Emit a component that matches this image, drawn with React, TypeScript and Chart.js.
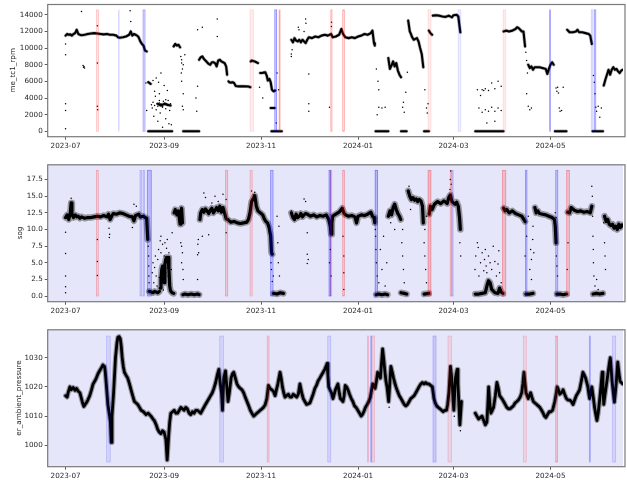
import { useEffect, useRef } from 'react';
import { Chart, registerables } from 'chart.js';

Chart.register(...registerables);

type Pair = [number, number];
type Trace = (Pair | null)[];
type Span = [number, number, number]; // start day, end day, intensity

// x axis: days since 2023-07-01
const dateTickDays = [0, 62, 123, 184, 244, 305];
const dateTickLabels = ['2023-07', '2023-09', '2023-11', '2024-01', '2024-03', '2024-05'];
const rpmTicks = [0, 2000, 4000, 6000, 8000, 10000, 12000, 14000];
const sogTicks = [0, 2.5, 5, 7.5, 10, 12.5, 15, 17.5];
const pressureTicks = [1000, 1010, 1020, 1030];

// ---------- me_tc1_rpm ----------
const rpmTrace: Trace = [
  [0, 11500], [1, 11700], [2, 11600], [3, 11650], [4, 11500], [5, 11700], [6, 11800], [7, 12200], [8, 11700], [9, 11600], [10, 11550], [12, 11600], [14, 11700], [16, 11750], [18, 11800], [20, 11750], [22, 11700], [24, 11650], [26, 11700], [28, 11600], [30, 11600], [32, 11500], [33, 11300], [34, 11250], [36, 11300], [38, 11400], [40, 11600], [41, 12000], [42, 11500], [43, 11700], [44, 11600], [45, 11500], [46, 11300], [47, 10800], [48, 10500], [49, 10300], [50, 9700], [51, 9600], null,
  [52, 5900], [53.5, 5700], null,
  [52, 0], [67, 0], null,
  [58, 3300], [60, 3100], [62, 3300], [64, 3200], [66, 3100], null,
  [68, 10200], [69, 10500], [70, 10300], [71, 10400], [72, 10100], null,
  [74, 0], [84, 0], null,
  [84, 8600], [85, 8900], [86, 9000], [87, 8700], [88, 8500], [89, 8300], [90, 8100], [91, 8000], [92, 8300], [93, 8300], [94, 8200], [95, 7800], [96, 8500], [97, 8600], [98, 8400], [99, 8300], [100, 8200], [101, 7800], [101.6, 6800], null,
  [102.5, 6000], [103, 5900], [104, 5850], [105, 5900], [106, 5800], [107, 5450], [109, 5400], [111, 5420], [113, 5400], [115, 5380], [116.2, 5300], null,
  [116.5, 8400], [117, 8500], [118, 8450], [119, 8400], [120, 8300], [121, 8200], null,
  [122.4, 7000], [123.5, 7000], [124.5, 7050], [125.6, 7100], [126.5, 6700], [127.2, 6100], [128.2, 6300], [129, 5900], [129.8, 5000], [130.8, 4800], [131.8, 4900], null,
  [129, 2800], [131.5, 2800], null,
  [129.5, 0], [136, 0], null,
  [142, 11000], [143, 10700], [144, 11200], [145, 10900], [146, 10800], [147, 11000], [148, 10700], [149, 11000], [150, 10800], [151, 10600], [152, 11000], [153, 11300], [155, 11200], [157, 11400], [159, 11300], [161, 11500], [163, 11600], [165, 11500], [167, 11700], [168, 11300], [170, 11400], [172, 11600], [173.5, 12300], [174.5, 11700], [176, 11300], [178, 11200], [180, 11300], [182, 11200], [184, 11400], [186, 11500], [188, 11700], [190, 11600], [192, 11800], [193, 12100], [194, 10600], [194.5, 10300], null,
  [195, 0], [203, 0], null,
  [203, 8800], [204, 7500], [205, 7900], [206, 8400], [207, 7800], [208, 8200], [209, 7300], [210, 6800], [211, 6500], null,
  [211, 0], [214.5, 0], null,
  [215.5, 13300], [216.5, 12000], [217, 11800], [218, 11300], [219, 11000], [220, 11100], [221, 11200], [222, 10800], [223, 10000], [224, 9300], [225, 7700], null,
  [225.5, 0], [228.5, 0], null,
  [228.5, 12100], [229.5, 11800], [230.5, 11600], null,
  [231, 13900], [233, 13950], [235, 13900], [237, 13800], [239, 13750], [241, 13900], [243, 13700], [244, 13950], [246, 14000], [247, 13800], [247.8, 12600], [248.3, 11900], null,
  [257.7, 0], [275.4, 0], null,
  [275.5, 12000], [277, 12100], [279, 12000], [281, 12100], [283, 12300], [284, 12500], [285, 12400], [286, 12200], [287, 12000], [288, 12000], [289, 10200], null,
  [291, 8000], [292, 7600], [293, 7800], [294, 7400], [295, 7700], [296, 7700], [298, 7700], [300, 7600], [302, 7500], [303, 6900], [304, 7500], [305, 8000], [306, 8300], [307, 8000], null,
  [307.8, 0], [315, 0], null,
  [315.5, 12200], [317, 11900], [319, 11900], [321, 12000], [322, 12200], [323, 11900], [325, 11900], [327, 11800], [329, 11700], [330, 11500], [331, 10500], null,
  [331.5, 0], [338, 0], null,
  [338.5, 5500], [339.5, 6200], [340.5, 6800], [341.5, 7400], [342.5, 6800], [343.5, 7400], [344.5, 7700], [345.5, 7400], [346.5, 7500], [347.5, 7200], [348.5, 7000], [349.5, 7300], [350.5, 7400],
];
const rpmPoints: Pair[] = [
  [0, 300], [0, 2500], [0, 3300], [0, 9200], [0, 10500], [10, 14400], [11, 7900], [11.3, 7700], [11.6, 7800], [11.9, 7600],
  [20, 12700], [20, 8200], [20, 3000], [20.2, 2600], [40.6, 14500], [41, 13200], [50.5, 5800], [51, 2500],
  [54, 3200], [54.5, 2800], [55, 3500], [55.5, 1800], [56, 3100], [56.5, 4200], [57, 2600], [57.5, 3300], [58, 3000], [58.5, 5900], [59, 3400], [59.5, 2200], [60, 3300], [60.5, 3100], [61, 2900], [61.5, 3600], [62, 3200], [62.5, 3400], [63, 2700], [63.5, 3300], [64, 3100], [64.5, 3700], [65, 3200], [65.5, 2500], [66, 3300], [66.5, 800],
  [55, 6100], [57, 6400], [60, 7000], [62, 5500], [58, 1200], [63, 1500], [61, 500], [65, 900], [56, 4800], [64, 4900], [59, 4500], [59, 3700], [61, 3000], [63, 3800],
  [72.5, 9000], [73, 8600], [73.5, 7500], [73, 6000], [74, 4500], [73.5, 3000], [74, 2600], [75, 9200], [72.8, 7000], [73, 8200], [74, 8000],
  [82, 4000], [82.5, 2400], [83, 5400], [83, 12200], [86, 12500], [95.4, 13500], [95.4, 11400],
  [122, 5300], [124, 4000], [133, 7000], [134, 5000], [132.5, 1000],
  [142, 9300], [142.5, 9800], [142, 9000], [146.4, 12500], [146.8, 12200], [151, 13500], [151.2, 13000], [150, 12000], [153, 3300], [153, 2400], [153, 6900],
  [166, 2900], [167.2, 12600], [167.3, 13100],
  [196, 2000], [197, 2900], [199, 2800], [201, 2900], [197, 5000], [195.5, 7500], [196.5, 6000],
  [212, 2900], [213, 2300], [214, 4700], [212.5, 3500], [215, 7100],
  [226, 5000], [227, 2800], [227.5, 2200], [228, 3300],
  [259, 5000], [261, 4300], [262, 5000], [263, 4900], [264, 5100], [266, 4900], [268, 5800], [270, 5100], [272, 6000], [274, 5400], [260, 2800], [262, 2300], [264, 2600], [266, 2400], [268, 2900], [270, 2400], [272, 2800], [274, 2500], [265, 1000], [270, 1200],
  [289.5, 9500], [290, 8500], [290.5, 7000], [291, 3000], [292, 2600], [293, 2800], [290, 4500],
  [308.5, 5200], [309, 4800], [309.5, 5300], [310, 4600], [310.5, 2800], [311, 2400], [312, 2500], [313, 5300],
  [332, 6700], [332.5, 5900], [333, 4500], [333.5, 2900], [334, 2400], [335, 3000], [336, 1700], [337, 2800],
];
const rpmRedSpans: Span[] = [[19.4, 20.8, 0.3], [116, 118.2, 0.2], [134.3, 134.9, 0.5], [166.8, 167.6, 0.4], [174.3, 175.5, 0.4], [228, 229.8, 0.2], [275.2, 276.9, 0.2]];
const rpmBlueSpans: Span[] = [[33.3, 33.7, 0.2], [48.7, 50, 0.45], [131.6, 132.8, 0.6], [246.9, 248.6, 0.2], [304.4, 305, 0.5], [330.6, 331.7, 0.25], [332.5, 333.5, 0.5]];
const rpmSpanRange: Pair = [0, 14600];

// ---------- sog ----------
const sogTrace: Trace = [
  [0, 11.8], [1, 12.2], [2, 11.5], [3, 12.5], [3.5, 14], [4, 12.3], [5, 11.8], [6, 12.2], [7, 11.9], [8, 12.0], [9, 11.7], [10, 11.9], [12, 11.7], [14, 11.8], [16, 11.8], [18, 11.9], [20, 12.0], [22, 11.9], [24, 12.1], [26, 11.9], [27, 12.3], [28, 11.5], [29, 12.0], [30, 12.4], [32, 12.3], [34, 12.5], [36, 12.4], [38, 12.2], [40, 12.0], [42, 11.9], [43, 11.3], [44, 12.1], [46, 12.3], [47, 11.9], [49, 12.0], [50, 11.8], [51, 11.7], [51.7, 8.5], null,
  [52.6, 0.7], [54, 0.6], [55, 0.5], [56, 0.7], [57, 0.6], [58, 0.5], [59, 0.7], null,
  [59.5, 1.2], [60, 2.5], [60.5, 4], [61, 4.5], [61.5, 3.2], [62, 2], [62.5, 4.8], [63, 5.5], [63.5, 5.8], [64, 5.3], [64.5, 5.8], [65, 4], [65.5, 1.5], [66, 0.8], [67, 0.5], [68, 0.4], null,
  [68.3, 12.5], [69, 13], [70, 12.2], [71, 12.8], [72, 10.8], [72.5, 12.3], [73, 13.2], [73.5, 11], null,
  [73.8, 0.2], [75, 0.3], [77, 0.2], [79, 0.3], [81, 0.2], [83, 0.3], [84, 0.2], null,
  [84.5, 11.5], [85, 12.5], [86, 13], [87, 12.6], [88, 13.1], [89, 12.8], [90, 12.4], [91, 12.9], [92, 13.2], [93, 12.5], [94, 12.9], [95, 13.3], [96, 12.8], [97, 13.5], [98, 12.6], [99, 13.3], [100, 12.5], [101, 11.6], [102, 11.5], [103, 11.3], [104, 11.1], [106, 11.2], [108, 11.0], [110, 10.9], [112, 11.0], [114, 11.1], [115, 11.5], [116, 12.5], [117, 14.2], [118, 14.6], [119, 15.1], [120, 13.5], [121, 12.8], [122, 12.6], [123, 12.4], [124, 12.2], [125, 11.6], [126, 11.2], [127, 11], [128, 10.3], [129, 9], [129.5, 6.5], [130, 6.3], null,
  [130.8, 0.4], [133, 0.3], [135, 0.5], [137, 0.4], null,
  [142, 12.5], [143, 11.8], [144, 11.5], [145, 12.3], [146, 11.8], [147, 12.0], [148, 12.4], [149, 11.9], [150, 12.2], [151, 12.4], [152, 12.3], [154, 12.0], [156, 12.2], [158, 11.9], [160, 12.1], [162, 12.0], [164, 12.2], [165.5, 11.5], [166.5, 10.5], [167, 9.3], [167.5, 11], [168, 12], [170, 12.3], [172, 12.6], [174, 13.2], [175, 12.5], [176, 12.2], [178, 12.0], [180, 12.1], [182, 11.9], [183, 11.0], [184, 12.0], [186, 12.2], [188, 12.1], [190, 12.3], [192, 12.6], [193, 12.0], [194, 11.8], [194.5, 11], null,
  [195.3, 0.2], [197, 0.3], [199, 0.2], [201, 0.3], [202.5, 0.2], null,
  [203, 12], [204, 12.8], [205, 12.2], [206, 13.3], [207, 13.8], [208, 13], [209, 12.4], [210, 12.0], [210.8, 11.5], null,
  [211, 0.5], [213, 0.4], [214.5, 0.3], null,
  [215.5, 15.8], [216.5, 15], [217.5, 14.5], [218.5, 14.8], [219.5, 14.4], [220.5, 14.6], [221.5, 14.2], [222.5, 14.5], [223.5, 14.3], [224.5, 13.5], [225, 11], null,
  [225.5, 0.3], [228.5, 0.4], null,
  [228.7, 12.3], [229.5, 13.5], [230.5, 13.0], [232, 13.8], [234, 14.2], [236, 13.9], [238, 14.3], [240, 13.9], [241, 14.8], [242, 15.2], [243, 14.2], [244, 14.0], [245, 13.8], [246, 14.1], [247, 13.5], [247.8, 11.8], [248.3, 10], null,
  [257.7, 0.3], [260, 0.3], [262, 0.4], [264, 0.5], [265, 1.5], [266, 2.3], [267, 2.0], [268, 1.0], [270, 0.5], [272, 0.4], [273, 1.2], [274, 0.6], [275, 0.4], null,
  [275.5, 13.2], [276.5, 12.8], [277.5, 13.0], [279, 12.5], [281, 12.8], [283, 12.4], [285, 12.2], [287, 12.0], [288, 11.6], [289, 11.2], null,
  [289.5, 0.3], [292, 0.3], [294, 0.4], null,
  [295.2, 13.3], [296, 12.5], [297, 12.8], [298, 12.4], [300, 12.3], [302, 12.2], [304, 12.0], [306, 11.8], [307.5, 11.5], [308, 10.5], [308.5, 8], null,
  [309, 0.3], [311, 0.3], [313, 0.2], [315, 0.3], null,
  [315.8, 12.6], [317, 12.5], [318, 13.3], [320, 12.9], [322, 12.7], [324, 12.8], [326, 12.6], [328, 12.7], [330, 12.5], [331, 13.5], null,
  [331.8, 0.3], [334, 0.4], [336, 0.3], [338, 0.4], null,
  [339, 12], [340, 11.2], [341, 11.5], [342, 10.8], [343, 10.6], [344, 10.8], [345, 10.2], [346, 10.5], [347, 10.0], [348, 10.8], [349, 10.3], [350, 10.7], [351, 10.5],
];
const sogPoints: Pair[] = [
  [0, 6.4], [0, 3], [0, 1.4], [0, 0.5], [0, 9.6], [3.5, 14.7], [20, 8.5], [20, 5.2], [20, 3.1], [27.5, 8.8], [27.7, 9.3], [27.3, 10.2], [43, 13.8], [44.5, 13.5], [42, 10.3],
  [52, 7.5], [52.2, 6], [52.3, 4.5], [52.4, 3], [52.5, 2],
  [54.5, 3.5], [55, 5], [55.5, 2], [56, 4.3], [56.5, 6], [57, 3], [57.5, 1.5], [58, 5.5], [58.5, 7], [59, 2.8], [59.5, 8.3], [60, 6.5], [60.5, 1.8], [61, 7.8], [61.5, 0.9], [62, 6], [62.5, 8], [63, 3.5], [63.5, 7.2], [64, 8.5], [64.5, 3], [65, 6.5], [65.5, 2.5], [66, 1.8], [66.5, 4], [67, 9.5], [60, 9], [62, 3.8], [64, 4.2],
  [72.5, 8], [73, 7.5], [73.5, 6.5], [73, 5], [74, 2.5], [73.8, 4],
  [83, 6.2], [83.2, 7.8], [83.5, 8.5], [83.7, 6.5], [83, 2.5],
  [87, 15.5], [88, 14.8], [92, 14], [94, 15], [96, 14.2], [99, 15.3], [101, 14.5], [101, 9.5], [86, 9], [90, 9.2],
  [117, 15.8], [118, 15.2], [119, 15.6],
  [129, 7], [129.2, 5], [129.5, 4], [130, 2.2], [130.7, 3], [133, 12], [133.5, 8], [133.8, 5], [134.5, 3], [134.2, 10.5],
  [142, 12.8], [150, 14.6], [151, 14.2], [152, 4.9], [152, 6.3], [152, 9.5], [152.6, 5.5],
  [166, 5], [166.5, 7], [167, 3], [174.5, 9], [175, 6], [175, 3.5], [175, 1],
  [195, 9], [195.2, 7], [195.5, 5], [196, 3], [194.8, 10],
  [198, 7], [199, 4], [200, 9], [201, 1.5], [197, 2], [202, 5],
  [204.5, 11], [207, 10], [211.5, 8], [212, 6], [212.5, 4], [213, 2], [212, 10],
  [216, 16.5], [217, 13], [225.5, 8], [226, 6], [226.5, 4], [227, 2], [226, 10], [227, 12],
  [241.8, 16], [242, 17.5], [242.2, 18.8], [242.5, 16.8], [248, 8], [248.5, 6],
  [257.5, 4], [258, 6], [259, 8], [259.5, 7.3], [260, 3], [261, 5], [262, 6.5], [263, 3.8], [263.5, 5.5], [264, 7], [264.5, 4.5], [265, 3.5], [266, 6], [267, 5], [268, 4], [269, 7.5], [270, 5.2], [271, 3], [272, 4.8], [272.5, 6.8], [273, 3.5], [274, 2],
  [289, 6], [290, 9], [291, 12], [292, 4], [292.5, 7], [293, 5.5], [293.8, 8.5], [294, 10.5], [294.5, 6.5], [293, 2.5],
  [308.5, 11.8], [308.7, 6], [309, 4.5], [309.4, 3], [308, 12.5], [316, 8], [315.5, 4],
  [331, 16.5], [331.3, 15], [331.5, 12], [331.7, 9], [331.9, 7], [332, 5], [332.3, 3], [333, 1.5], [334, 2.5], [335, 1],
  [338.5, 11], [339, 8], [339.3, 6], [339.6, 4],
];
const sogRedSpans: Span[] = [[19.4, 20.6, 0.35], [100.6, 102, 0.4], [116, 117.4, 0.3], [166.6, 167.4, 0.4], [174.3, 175.5, 0.4], [228, 229.8, 0.55], [241.9, 243, 0.4], [274.8, 276.9, 0.5], [315.2, 316.9, 0.5]];
const sogBlueSpans: Span[] = [[46.8, 47.7, 0.3], [48.7, 49.6, 0.3], [51.4, 53.9, 0.55], [128.9, 130.5, 0.5], [165.7, 166.6, 0.6], [194.7, 196.3, 0.6], [243, 243.8, 0.25], [289.2, 290.2, 0.5], [308.3, 309.6, 0.5]];
const sogSpanRange: Pair = [0, 18.9];

// ---------- er_ambient_pressure ----------
const pressureTrace: Trace = [
  [0, 1017], [1, 1016.5], [1.7, 1018.2], [2.7, 1020], [3.5, 1019], [4.8, 1019.8], [6, 1018.8], [6.9, 1019.5], [8, 1018.5], [9, 1018], [10, 1016], [10.7, 1014.5], [11.5, 1013.3], [12.3, 1014], [13, 1014.5], [14, 1015.5], [15.2, 1017], [16.3, 1019], [17.3, 1021], [18.4, 1022], [19.4, 1023.1], [20.4, 1024.5], [21.4, 1025.5], [22.5, 1026.5], [23.5, 1027.5], [24.5, 1027], [25, 1025], [25.6, 1021], [26.6, 1014], [27.7, 1010], [28.2, 1008], [28.7, 1001], [29.2, 1010], [30.2, 1018], [31.4, 1030], [32.3, 1035], [32.9, 1037], [33.7, 1037.2], [34.4, 1036.5], [35, 1034], [35.6, 1030], [36.3, 1027], [37, 1025], [38, 1024], [39.1, 1023], [40.2, 1021], [41.2, 1019], [42.2, 1017], [43.3, 1015], [44.4, 1014.5], [45.4, 1014], [46.5, 1013], [47.5, 1012], [49, 1011.5], [50.6, 1010.5], [52, 1011], [53.7, 1010], [55, 1009], [55.8, 1008.5], [57, 1007], [57.9, 1005.5], [59, 1004.5], [60, 1004], [61, 1005], [62, 1004.5], [63.1, 1002], [63.9, 995], [64.8, 1003], [65.5, 1008], [66.2, 1011], [67.3, 1011.5], [68.3, 1012], [69.4, 1011], [70.4, 1011], [71.5, 1012], [72.5, 1013], [73.5, 1012.5], [74.5, 1012], [75.6, 1013], [76.6, 1012.5], [77.7, 1011], [78.7, 1010.5], [79.8, 1011.5], [80.8, 1011], [81.9, 1012], [82.9, 1012], [84, 1011.5], [85, 1011], [86, 1012], [87, 1013], [88, 1014], [89.1, 1015], [90.2, 1016], [91.2, 1017], [92.3, 1018], [93.3, 1019.5], [94.4, 1021.5], [95.4, 1024], [96.4, 1026], [97.1, 1022], [98.1, 1018], [98.7, 1012], [99.5, 1023], [100.6, 1025.5], [101.4, 1020], [102.2, 1015], [103, 1018], [104.1, 1023], [105, 1024.5], [105.8, 1025], [106.8, 1023], [107.8, 1021], [108.9, 1020], [109.9, 1019.5], [111, 1019], [112, 1018], [113, 1016.5], [114.1, 1015], [115.2, 1013.5], [116.2, 1012], [117.2, 1011], [118.3, 1010], [119.3, 1010.5], [120.3, 1011], [121.4, 1011.5], [122.4, 1012], [123.5, 1012.5], [124.5, 1013], [125.6, 1014], [126.6, 1016], [127.6, 1020.5], [128.6, 1019.5], [129.7, 1019], [130.7, 1018.5], [131.8, 1017], [132.6, 1019], [133.5, 1021], [134.2, 1023], [134.9, 1025], [135.6, 1023], [136.4, 1020], [137.2, 1018], [138, 1016.5], [139, 1017], [140.1, 1017.5], [141.2, 1016.5], [142.2, 1016.5], [143.2, 1017.5], [144.3, 1017], [145.4, 1016.5], [146.4, 1017.5], [147.4, 1021], [148.5, 1018], [149.5, 1016], [150.5, 1015], [151.6, 1014], [152.6, 1014.2], [153.7, 1014.5], [154.7, 1016], [155.7, 1017.5], [156.8, 1019.5], [157.8, 1020.5], [158.8, 1022], [159.9, 1023], [160.9, 1024], [162, 1025], [163, 1026], [163.8, 1027], [164.5, 1028], [165, 1024], [165.5, 1020], [166.3, 1019], [167.2, 1018], [168.2, 1016], [169, 1017.5], [169.7, 1019], [170.5, 1020], [171.3, 1021], [172, 1018.5], [172.8, 1016], [173.7, 1015.5], [174.5, 1015], [175.2, 1017], [175.9, 1020.5], [176.8, 1020], [177.6, 1019], [178.6, 1017.5], [179.7, 1016], [180.7, 1015], [181.7, 1013.5], [182.7, 1013], [183.8, 1012], [184.9, 1011], [185.9, 1010], [186.7, 1010.5], [187.6, 1011.5], [188.6, 1013], [189.7, 1014], [190.7, 1015], [191.7, 1016.5], [192.5, 1019], [193.2, 1021], [194, 1020.5], [194.7, 1019.5], [195.5, 1022], [196.3, 1025], [197.2, 1024], [198, 1023], [198.7, 1028], [199.4, 1033], [200.2, 1029], [200.9, 1025], [201.5, 1022], [202.2, 1020], [203.2, 1015], [203.9, 1021], [204.6, 1027], [205.5, 1025], [206.3, 1023], [207, 1021.5], [207.8, 1020], [208.8, 1018.5], [209.9, 1017], [211, 1016], [212, 1015], [213, 1014], [214, 1013.5], [215, 1014], [216.1, 1015], [217.1, 1016], [218.2, 1016.5], [219.2, 1017], [220.3, 1018], [221.3, 1019], [222.3, 1020], [223.4, 1021], [224.4, 1021.5], [225.5, 1021], [226.5, 1021.5], [227.5, 1021], [228.6, 1021], [229.6, 1020.5], [230.7, 1020], [231.7, 1016], [232.5, 1014.5], [233.4, 1013.5], [234.4, 1013], [235.5, 1012.5], [236.5, 1012], [237.5, 1011.5], [238.5, 1012], [239.6, 1012], [240.3, 1014], [241.1, 1018], [242.1, 1027], [242.7, 1024], [243.2, 1020], [244.2, 1012], [245.2, 1023], [246.3, 1026], [246.8, 1021], [247.3, 1015], [248, 1007], [249, 1015], null,
  [257.7, 1011], [258.7, 1010], [259.8, 1009], [260.8, 1009.5], [261.9, 1010], [263, 1008.5], [264, 1007], [265, 1008], [265.6, 1014], [266.1, 1020], [266.7, 1015], [267.5, 1011], [268.4, 1012], [269.2, 1013], [270.3, 1017], [271.3, 1021.5], [272.2, 1019.5], [273, 1017], [274.4, 1016], [275.5, 1015], [276.5, 1014], [277.5, 1013], [278.6, 1012.5], [279.6, 1012.5], [280.6, 1013], [281.7, 1013.5], [282.7, 1014.5], [283.8, 1015], [284.8, 1015.5], [285.9, 1016.5], [286.9, 1018], [287.6, 1021], [288.3, 1025], [289, 1021], [289.6, 1018], [290.3, 1017], [291, 1016], [291.7, 1017], [292.5, 1018], [293.3, 1016.5], [294.2, 1015], [295.2, 1014.5], [296.3, 1014], [297.3, 1013.5], [298.3, 1013], [299.4, 1012], [300.4, 1011], [301.2, 1010], [302.1, 1009.5], [303.1, 1010.5], [304.2, 1011.5], [305.2, 1011.5], [306.3, 1012], [307, 1013.5], [307.7, 1015], [308.5, 1017.5], [309.2, 1020], [310, 1019], [310.8, 1017.5], [311.9, 1018], [312.9, 1019], [313.9, 1017.5], [315, 1016], [316, 1015.5], [317.1, 1015.5], [318.1, 1015], [319.2, 1014], [320.2, 1015.5], [321.2, 1017], [322.3, 1018], [323.3, 1019], [324.4, 1022], [325.4, 1025], [326.3, 1024], [327.1, 1023], [327.8, 1021.5], [328.5, 1020], [329, 1018], [329.6, 1016], [330.3, 1018], [331, 1020], [331.9, 1016.5], [332.7, 1013], [333.5, 1010.5], [334.2, 1008.5], [335, 1011], [335.8, 1015], [336.7, 1020], [337.5, 1025], [338, 1019], [338.5, 1014], [339.2, 1017], [340, 1020], [341, 1024], [342, 1028], [342.6, 1030], [343.2, 1026], [343.7, 1022], [344.5, 1018], [345.2, 1014.8], [346.3, 1021], [347.3, 1028.5], [348, 1025], [348.7, 1022], [349.5, 1021.5], [350.5, 1021],
];
const pressurePoints: Pair[] = [[28.9, 1003], [64.2, 998], [98.9, 1014], [203.5, 1013], [244.5, 1010], [248.3, 1005]];
const pressureRedSpans: Span[] = [[126.8, 128, 0.3], [189.9, 190.5, 0.3], [192.6, 194.4, 0.25], [240.5, 242.8, 0.25], [287.9, 289.8, 0.25], [308.3, 309.4, 0.4]];
const pressureBlueSpans: Span[] = [[25.8, 28.1, 0.25], [97, 99.3, 0.25], [164.9, 166.8, 0.25], [191.9, 192.6, 0.35], [231.1, 233, 0.35], [329.4, 330, 0.4], [344.1, 346, 0.25]];
const pressureSpanRange: Pair = [994.3, 1037.4];

interface PanelSpec {
  id: string;
  trace: Trace;
  points: Pair[];
  red: Span[];
  blue: Span[];
  spanRange: Pair;
  yTicks: number[];
  yMin: number;
  yMax: number;
  yLabel: string;
  yFmt: (v: number) => string;
  bg: string | null;
  top: number;
  height: number;
  areaTop: number;
  areaBottom: number;
  titlePad: number;
  core: number;
  halo: number;
  haloAlpha: number;
}

const FONT = { family: 'DejaVu Sans', size: 7.2 };
const W = 627;

const panels: PanelSpec[] = [
  {
    id: 'rpm', trace: rpmTrace, points: rpmPoints, red: rpmRedSpans, blue: rpmBlueSpans, spanRange: rpmSpanRange,
    yTicks: rpmTicks, yMin: -650, yMax: 15300, yLabel: 'me_tc1_rpm', yFmt: (v) => String(v),
    bg: null, top: 0, height: 160, areaTop: 0, areaBottom: 136.7, titlePad: 9, core: 2.1, halo: 3.4, haloAlpha: 0.3,
  },
  {
    id: 'sog', trace: sogTrace, points: sogPoints, red: sogRedSpans, blue: sogBlueSpans, spanRange: sogSpanRange,
    yTicks: sogTicks, yMin: -0.85, yMax: 19.8, yLabel: 'sog', yFmt: (v) => v.toFixed(1),
    bg: '#e6e6fa', top: 160, height: 160, areaTop: 164.3, areaBottom: 301.7, titlePad: 15.7, core: 3.2, halo: 6.5, haloAlpha: 0.35,
  },
  {
    id: 'pressure', trace: pressureTrace, points: pressurePoints, red: pressureRedSpans, blue: pressureBlueSpans, spanRange: pressureSpanRange,
    yTicks: pressureTicks, yMin: 992.7, yMax: 1039.7, yLabel: 'er_ambient_pressure', yFmt: (v) => String(v),
    bg: '#e6e6fa', top: 322, height: 160, areaTop: 329.3, areaBottom: 466.7, titlePad: 14.4, core: 2.8, halo: 5, haloAlpha: 0.35,
  },
];

function toXY(trace: Trace) {
  const out: { x: number; y: number | null }[] = [];
  let lastX = 0;
  for (const p of trace) {
    if (p) {
      out.push({ x: p[0], y: p[1] });
      lastX = p[0];
    } else {
      out.push({ x: lastX, y: null });
    }
  }
  return out;
}

function makePlugin(spec: PanelSpec) {
  return {
    id: 'decor_' + spec.id,
    beforeDraw(chart: any) {
      const { ctx, chartArea: a } = chart;
      if (spec.bg) {
        ctx.save();
        ctx.fillStyle = spec.bg;
        ctx.fillRect(a.left, a.top, a.right - a.left, a.bottom - a.top);
        ctx.restore();
      }
    },
    afterDatasetsDraw(chart: any) {
      const { ctx, chartArea: a, scales } = chart;
      const xs = scales.x;
      const ys = scales.y;
      const yTop = ys.getPixelForValue(spec.spanRange[1]);
      const yBot = ys.getPixelForValue(spec.spanRange[0]);
      ctx.save();
      ctx.beginPath();
      ctx.rect(a.left, a.top, a.right - a.left, a.bottom - a.top);
      ctx.clip();
      const drawSpans = (spans: Span[], rgb: string) => {
        for (const [s, e, k] of spans) {
          const x0 = xs.getPixelForValue(s);
          const x1 = xs.getPixelForValue(e);
          const w = Math.max(x1 - x0, 0.6);
          ctx.fillStyle = `rgba(${rgb},${k * 0.35})`;
          ctx.fillRect(x0, yTop, w, yBot - yTop);
          ctx.strokeStyle = `rgba(${rgb},${k * 0.75})`;
          ctx.lineWidth = 0.7;
          ctx.strokeRect(x0, yTop, w, yBot - yTop);
        }
      };
      drawSpans(spec.red, '255,0,0');
      drawSpans(spec.blue, '0,0,255');
      ctx.restore();
      ctx.save();
      ctx.strokeStyle = '#7a7a7a';
      ctx.lineWidth = 1.2;
      ctx.strokeRect(a.left, a.top + 0.5, a.right - a.left + 2, a.bottom - a.top - 0.5);
      ctx.restore();
    },
  };
}

function buildConfig(spec: PanelSpec): any {
  const xy = toXY(spec.trace);
  const datasets: any[] = [];
  if (spec.halo > 0) {
    datasets.push({
      type: 'line', data: xy, borderColor: `rgba(0,0,0,${spec.haloAlpha})`, borderWidth: spec.halo,
      pointRadius: 0, tension: 0, fill: false, spanGaps: false, borderJoinStyle: 'round', borderCapStyle: 'round',
    });
  }
  datasets.push({
    type: 'line', data: xy, borderColor: '#000', borderWidth: spec.core,
    pointRadius: 0, tension: 0, fill: false, spanGaps: false, borderJoinStyle: 'round', borderCapStyle: 'round',
  });
  datasets.push({
    type: 'scatter', data: spec.points.map(([x, y]) => ({ x, y })), pointRadius: 0.75,
    backgroundColor: '#000', borderWidth: 0, pointStyle: 'circle',
  });
  return {
    type: 'line',
    data: { datasets },
    options: {
      animation: false,
      responsive: false,
      maintainAspectRatio: false,
      devicePixelRatio: 1,
      events: [],
      layout: { padding: { top: spec.areaTop - spec.top, left: 0, right: 0, bottom: 0 } },
      plugins: { legend: { display: false }, tooltip: { enabled: false }, title: { display: false } },
      scales: {
        x: {
          type: 'linear', min: -11.24, max: 350.6,
          afterBuildTicks: (s: any) => { s.ticks = dateTickDays.map((v) => ({ value: v })); },
          afterFit: (s: any) => { s.height = spec.top + spec.height - spec.areaBottom; s.paddingLeft = 0; s.paddingRight = 0; },
          ticks: {
            autoSkip: false, maxRotation: 0, minRotation: 0, padding: 2, color: '#262626', font: FONT,
            callback: (v: number) => { const i = dateTickDays.indexOf(v); return i >= 0 ? dateTickLabels[i] : ''; },
          },
          grid: { display: true, drawOnChartArea: false, drawTicks: true, tickLength: 3, color: '#333', lineWidth: 0.8 },
          border: { display: false },
        },
        y: {
          type: 'linear', min: spec.yMin, max: spec.yMax,
          afterBuildTicks: (s: any) => { s.ticks = spec.yTicks.map((v) => ({ value: v })); },
          afterFit: (s: any) => { s.width = 47.7; s.paddingTop = 0; s.paddingBottom = 0; },
          ticks: { padding: 2, color: '#262626', font: FONT, callback: (v: number) => spec.yFmt(v) },
          grid: { display: true, drawOnChartArea: false, drawTicks: true, tickLength: 3, color: '#333', lineWidth: 0.8 },
          border: { display: false },
          title: { display: true, text: spec.yLabel, color: '#262626', font: FONT, padding: { top: spec.titlePad, bottom: 0 } },
        },
      },
    },
    plugins: [makePlugin(spec)],
  };
}

function Panel({ spec }: { spec: PanelSpec }) {
  const ref = useRef<HTMLCanvasElement>(null);
  useEffect(() => {
    if (!ref.current) return;
    const chart = new Chart(ref.current, buildConfig(spec));
    return () => chart.destroy();
  }, [spec]);
  return (
    <canvas
      ref={ref}
      width={W}
      height={spec.height}
      style={{ position: 'absolute', left: 0, top: spec.top, width: W, height: spec.height, display: 'block' }}
    />
  );
}

export default function App() {
  return (
    <div style={{ position: 'fixed', left: 0, top: 0, width: W, height: 482, background: '#fff', overflow: 'hidden' }}>
      {panels.map((p) => (
        <Panel key={p.id} spec={p} />
      ))}
    </div>
  );
}
